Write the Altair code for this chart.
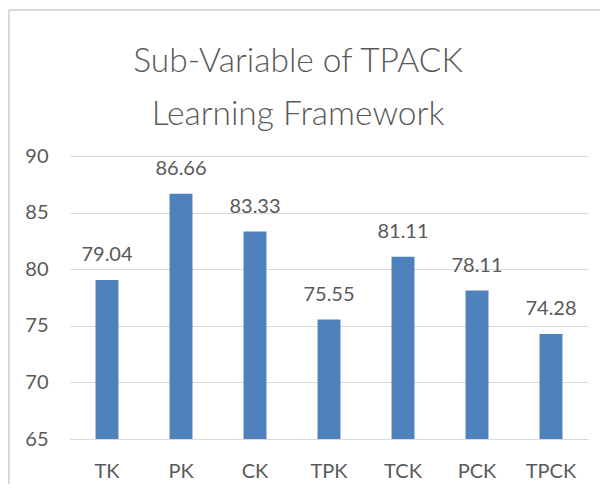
import altair as alt
import pandas as pd

categories = ["TK", "PK", "CK", "TPK", "TCK", "PCK", "TPCK"]
values = [79.04, 86.66, 83.33, 75.55, 81.11, 78.11, 74.28]
y_ticks = [65, 70, 75, 80, 85, 90]

df = pd.DataFrame({"cat": categories, "val": values, "base": [65] * len(values)})

FONT = "Lato"
TXT = "#595959"
BORDER = "#D9D9D9"

x = alt.X("cat:N", sort=categories, title=None,
          scale=alt.Scale(paddingInner=0.69, paddingOuter=0.345),
          axis=alt.Axis(labelAngle=0, domain=False, ticks=False, labelPadding=22,
                        labelFontSize=20, labelColor=TXT, labelFont=FONT))
y = alt.Y("val:Q", title=None,
          scale=alt.Scale(domain=[65, 90], zero=False, nice=False),
          axis=alt.Axis(values=y_ticks, domain=False, ticks=False, labelPadding=22,
                        labelFontSize=20, labelColor=TXT, labelFont=FONT,
                        gridColor="#D9D9D9", gridWidth=1))

bars = alt.Chart(df).mark_bar(color="#4F81BD").encode(x=x, y=y, y2="base:Q")
labels = alt.Chart(df).mark_text(fontSize=20, font=FONT, color=TXT, baseline="alphabetic",
                                 dy=-19).encode(
    x=alt.X("cat:N", sort=categories), y="val:Q", text=alt.Text("val:Q", format=".2f"))

frame_df = pd.DataFrame({"a": [0]})
top_edge = alt.Chart(frame_df).mark_rule(color=BORDER, strokeWidth=2).encode(
    x=alt.value(-61), x2=alt.value(530), y=alt.value(-146))
left_edge = alt.Chart(frame_df).mark_rule(color=BORDER, strokeWidth=2).encode(
    x=alt.value(-61), y=alt.value(-146), y2=alt.value(328))

chart = alt.layer(top_edge, left_edge, bars, labels).properties(
    width=518, height=283,
    padding={"left": 0, "top": 1, "right": 0, "bottom": 0},
    title=alt.TitleParams(["Sub-Variable of TPACK", "Learning Framework"],
                          font=FONT, fontSize=33.5, fontWeight=300, color=TXT,
                          lineHeight=53, anchor="middle", dx=-31, dy=138, offset=15),
).configure_view(stroke=None)

chart.save("out.html", embed_options={"renderer": "svg", "actions": False})
